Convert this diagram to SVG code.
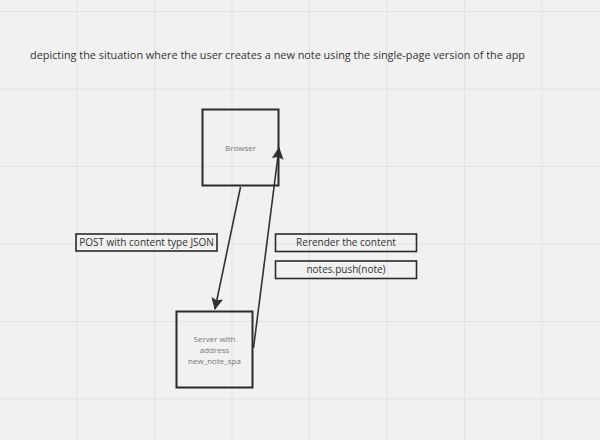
<svg xmlns="http://www.w3.org/2000/svg" width="600" height="440" viewBox="0 0 600 440">
<defs>
<pattern id="grid" x="-1" y="11" width="77.5" height="77.5" patternUnits="userSpaceOnUse">
<path d="M0 0H77.5M0 0V77.5" fill="none" stroke="#e3e3e3" stroke-width="2"/>
</pattern>
<marker id="arr" viewBox="0 0 12 12" refX="11" refY="6" markerWidth="12" markerHeight="12" markerUnits="userSpaceOnUse" orient="auto">
<path d="M0 0L12 6L0 12L2 6Z" fill="#333"/>
</marker>
</defs>
<style>
.node{fill:none;stroke:#2b2b2b;stroke-width:2}
.lab{fill:none;stroke:#2b2b2b;stroke-width:1.6}
.nt{font-family:"Open Sans","Noto Sans",sans-serif;font-size:8px;fill:#777;text-anchor:middle}
.lt{font-family:"Open Sans","Noto Sans",sans-serif;font-size:10px;fill:#333;text-anchor:middle}
.conn{fill:none;stroke:#333;stroke-width:1.6;marker-end:url(#arr)}
</style>
<rect width="600" height="440" fill="#f1f1f1"/>
<rect width="600" height="440" fill="url(#grid)"/>
<text x="30" y="59" font-family="'Open Sans','Noto Sans',sans-serif" font-size="10.87" fill="#333">depicting the situation where the user creates a new note using the single-page version of the app</text>
<g id="connectors">
<line class="conn" x1="240.5" y1="187" x2="215" y2="309"/>
<line class="conn" x1="253.5" y1="348" x2="279" y2="148"/>
</g>
<g id="browser">
<rect class="node" x="202.5" y="109.5" width="76" height="76"/>
<text class="nt" x="240.5" y="151">Browser</text>
</g>
<g id="server">
<rect class="node" x="176.5" y="311.5" width="76" height="76"/>
<text class="nt" x="214.5" y="342">Server with</text>
<text class="nt" x="214.5" y="353">address</text>
<text class="nt" x="214.5" y="364">new_note_spa</text>
</g>
<g id="label-post">
<rect class="lab" x="76" y="234" width="141" height="17"/>
<text class="lt" x="146.5" y="246">POST with content type JSON</text>
</g>
<g id="label-rerender">
<rect class="lab" x="275.5" y="234" width="141" height="17.5"/>
<text class="lt" x="346" y="246">Rerender the content</text>
</g>
<g id="label-push">
<rect class="lab" x="275.5" y="261" width="141" height="17.5"/>
<text class="lt" x="346" y="273">notes.push(note)</text>
</g>
</svg>
